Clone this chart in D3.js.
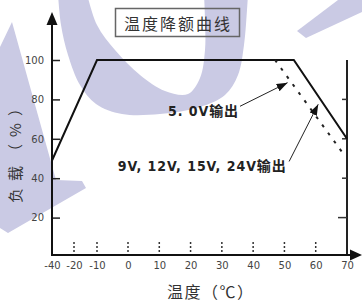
<!DOCTYPE html>
<html>
<head>
<meta charset="utf-8">
<script src="https://cdn.jsdelivr.net/npm/d3@7"></script>
<style>
  body { margin: 0; background: #fff; }
  svg { display: block; }
</style>
</head>
<body>
<svg id="chart" width="362" height="305"></svg>
<script>
// derating curve
var solidTemp = [-40, -10, 53, 70];
var solidLoad = [49, 100, 100, 60];
var dotTemp = [47, 69];
var dotLoad = [100, 52];

var xTicks = [-40, -20, -10, 0, 10, 20, 30, 40, 50, 60, 70];
var dashTicks = [-20, -10, 0, 10, 20, 30, 40, 50, 60];
var yTicks = [20, 40, 60, 80, 100];
var rightTicks = [20, 40, 60, 80];

// annotations: label text, label anchor (temp, load), arrow from / to
var noteText = ["5. 0V输出", "9V, 12V, 15V, 24V输出"];
var noteAt = [[24, 71.5], [23.6, 43.5]];
var noteFrom = [[35.8, 76.5], [51.5, 48.5]];
var noteTo = [[51, 88.5], [60.8, 77.5]];

var svg = d3.select("#chart");

// light watermark behind everything
var wm = svg.append("g").attr("fill", "#cacae4");
var outerO = [[58, -6], [61, 25], [68, 55], [80, 85], [96, 104], [122, 114], [160, 114],
              [200, 107], [225, 95], [238, 75], [244, 45], [247, 10], [248, -6]];
var innerO = [[204, -6], [205, 20], [205, 50], [200, 78], [188, 94], [165, 91], [140, 75],
              [115, 50], [97, 25], [87, -6]];
wm.append("path")
    .attr("d", d3.line().curve(d3.curveCatmullRom)(outerO) + "L" +
               d3.line().curve(d3.curveCatmullRom)(innerO).slice(1) + "Z");
wm.append("path").attr("d", "M0,47 L12,22 L56,180 L82,181 L86,188 L8,233 L0,228 Z");
wm.append("path").attr("d", "M297,31 L338,0 L362,0 L362,12 L306,38 Z");

// scales (x axis is not evenly spaced below 0)
var x = d3.scaleLinear()
    .domain([-40, -20, -10, 0, 70])
    .range([52, 74, 97, 128, 347]);
var y = d3.scaleLinear()
    .domain([0, 100])
    .range([257, 60]);

// title box
svg.append("rect")
    .attr("x", 115.5).attr("y", 8.5)
    .attr("width", 124).attr("height", 28)
    .attr("fill", "none")
    .attr("stroke", "#666")
    .attr("stroke-width", 1.5);
svg.append("text")
    .attr("x", 177).attr("y", 30)
    .attr("text-anchor", "middle")
    .attr("font-family", "Noto Sans CJK SC")
    .attr("font-size", 16)
    .attr("fill", "#333")
    .attr("textLength", 106)
    .attr("lengthAdjust", "spacing")
    .text("温度降额曲线");

// y axis ticks + labels
var yAxis = svg.append("g")
    .attr("transform", "translate(52,0)")
    .call(d3.axisLeft(y).tickValues(yTicks).tickSizeInner(-8).tickSizeOuter(0).tickPadding(8));
yAxis.select(".domain").remove();
yAxis.selectAll(".tick line").attr("stroke", "#222").attr("stroke-width", 1.5);
yAxis.selectAll(".tick text")
    .attr("font-family", "DejaVu Sans")
    .attr("font-size", 10)
    .attr("fill", "#444");

// x axis labels (plain hyphen for minus, as in the original)
var xAxis = svg.append("g")
    .attr("transform", "translate(0,255)")
    .call(d3.axisBottom(x).tickValues(xTicks).tickSize(0).tickPadding(7)
        .tickFormat(function (d) { return String(d); }));
xAxis.select(".domain").remove();
xAxis.selectAll(".tick text")
    .attr("font-family", "DejaVu Sans")
    .attr("font-size", 10)
    .attr("fill", "#444");

// dotted tick marks on the bottom axis
svg.append("g").selectAll("line")
    .data(dashTicks)
    .enter()
    .append("line")
    .attr("x1", function (d) { return x(d); })
    .attr("x2", function (d) { return x(d); })
    .attr("y1", 242)
    .attr("y2", 255)
    .attr("stroke", "#333")
    .attr("stroke-width", 1.5)
    .attr("stroke-dasharray", "2,2");

// right frame line and its small ticks
svg.append("line")
    .attr("x1", x(70)).attr("x2", x(70))
    .attr("y1", y(100)).attr("y2", 256)
    .attr("stroke", "#222").attr("stroke-width", 2);
svg.append("g").selectAll("line")
    .data(rightTicks)
    .enter()
    .append("line")
    .attr("x1", function (d) { return x(70) - (d == 20 ? 9 : 5); })
    .attr("x2", x(70))
    .attr("y1", function (d) { return y(d); })
    .attr("y2", function (d) { return y(d); })
    .attr("stroke", "#333")
    .attr("stroke-width", 1.5);

// axis lines with arrows
svg.append("line")
    .attr("x1", 52).attr("x2", 52)
    .attr("y1", 20).attr("y2", 256)
    .attr("stroke", "#111").attr("stroke-width", 2);
svg.append("path").attr("d", "M52,12 L46.5,25 L57.5,25 Z").attr("fill", "#111");
svg.append("line")
    .attr("x1", 51).attr("x2", 354)
    .attr("y1", 255).attr("y2", 255)
    .attr("stroke", "#111").attr("stroke-width", 2);
svg.append("path").attr("d", "M362,255 L350,249.5 L350,260.5 Z").attr("fill", "#111");

// curves
var line = d3.line()
    .x(function (d) { return x(d[0]); })
    .y(function (d) { return y(d[1]); });

svg.append("path")
    .datum(solidTemp.map(function (t, i) { return [t, solidLoad[i]]; }))
    .attr("d", line)
    .attr("fill", "none")
    .attr("stroke", "#111")
    .attr("stroke-width", 2);

svg.append("path")
    .datum(dotTemp.map(function (t, i) { return [t, dotLoad[i]]; }))
    .attr("d", line)
    .attr("fill", "none")
    .attr("stroke", "#222")
    .attr("stroke-width", 2)
    .attr("stroke-dasharray", "3,7");

// annotation arrows
svg.append("defs").append("marker")
    .attr("id", "head")
    .attr("markerUnits", "userSpaceOnUse")
    .attr("markerWidth", 12).attr("markerHeight", 10)
    .attr("refX", 11).attr("refY", 4)
    .attr("orient", "auto")
    .append("path")
    .attr("d", "M0,0 L11,4 L0,8 Z")
    .attr("fill", "#111");

svg.append("g").selectAll("line")
    .data(noteFrom)
    .enter()
    .append("line")
    .attr("x1", function (d) { return x(d[0]); })
    .attr("y1", function (d) { return y(d[1]); })
    .attr("x2", function (d, i) { return x(noteTo[i][0]); })
    .attr("y2", function (d, i) { return y(noteTo[i][1]); })
    .attr("stroke", "#222")
    .attr("stroke-width", 1)
    .attr("marker-end", "url(#head)");

var noteWidth = [70, 168];
svg.append("g").selectAll("text")
    .data(noteText)
    .enter()
    .append("text")
    .attr("x", function (d, i) { return x(noteAt[i][0]); })
    .attr("y", function (d, i) { return y(noteAt[i][1]); })
    .attr("text-anchor", "middle")
    .attr("font-family", "DejaVu Sans Condensed, Noto Sans CJK SC")
    .attr("font-weight", "bold")
    .attr("font-size", 14)
    .attr("fill", "#222")
    .attr("textLength", function (d, i) { return noteWidth[i]; })
    .attr("lengthAdjust", "spacing")
    .text(function (d) { return d; });

// axis titles
svg.append("text")
    .attr("transform", "translate(21,152) rotate(-90)")
    .attr("text-anchor", "middle")
    .attr("font-family", "Noto Sans CJK SC")
    .attr("font-size", 15)
    .attr("fill", "#333")
    .attr("textLength", 102)
    .attr("lengthAdjust", "spacing")
    .text("负载（%）");

svg.append("text")
    .attr("x", 210).attr("y", 298)
    .attr("text-anchor", "middle")
    .attr("font-family", "Noto Sans CJK SC")
    .attr("font-size", 16)
    .attr("fill", "#333")
    .attr("textLength", 86)
    .attr("lengthAdjust", "spacing")
    .text("温度（℃）");
</script>
</body>
</html>
